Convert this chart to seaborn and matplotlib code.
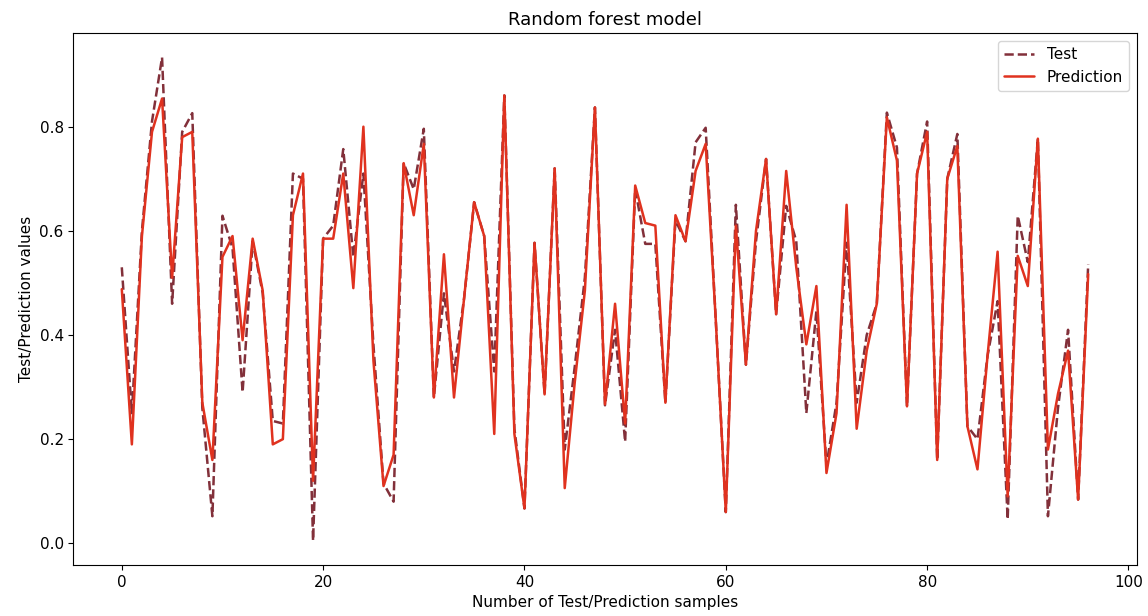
import numpy as np
import pandas as pd
import matplotlib
matplotlib.use("Agg")
import matplotlib.pyplot as plt
import seaborn as sns

test_values = [0.53, 0.25, 0.60, 0.81, 0.933, 0.46, 0.79, 0.826, 0.26, 0.052,
               0.629, 0.567, 0.29, 0.58, 0.48, 0.235, 0.23, 0.71, 0.70, 0.005,
               0.585, 0.61, 0.757, 0.55, 0.71, 0.38, 0.115, 0.08, 0.73, 0.68,
               0.796, 0.28, 0.48, 0.33, 0.47, 0.655, 0.59, 0.33, 0.86, 0.22,
               0.067, 0.577, 0.286, 0.72, 0.18, 0.34, 0.51, 0.837, 0.265, 0.41,
               0.195, 0.68, 0.575, 0.575, 0.27, 0.62, 0.58, 0.77, 0.798, 0.43,
               0.06, 0.65, 0.343, 0.58, 0.738, 0.44, 0.648, 0.58, 0.25, 0.446,
               0.15, 0.27, 0.577, 0.27, 0.40, 0.46, 0.827, 0.76, 0.263, 0.71,
               0.81, 0.16, 0.70, 0.786, 0.225, 0.20, 0.36, 0.465, 0.046, 0.629,
               0.54, 0.777, 0.052, 0.26, 0.41, 0.084, 0.536]
pred_values = [0.488, 0.19, 0.59, 0.79, 0.854, 0.51, 0.78, 0.79, 0.27, 0.16,
               0.55, 0.59, 0.39, 0.585, 0.485, 0.19, 0.20, 0.63, 0.71, 0.12,
               0.585, 0.585, 0.71, 0.49, 0.80, 0.35, 0.11, 0.17, 0.73, 0.63,
               0.767, 0.28, 0.555, 0.28, 0.47, 0.655, 0.59, 0.21, 0.86, 0.21,
               0.067, 0.577, 0.286, 0.72, 0.106, 0.31, 0.485, 0.837, 0.267, 0.46,
               0.23, 0.687, 0.615, 0.61, 0.27, 0.63, 0.58, 0.715, 0.767, 0.43,
               0.06, 0.61, 0.343, 0.60, 0.738, 0.44, 0.715, 0.53, 0.382, 0.494,
               0.135, 0.25, 0.65, 0.22, 0.37, 0.46, 0.818, 0.735, 0.263, 0.71,
               0.79, 0.16, 0.70, 0.763, 0.225, 0.142, 0.36, 0.56, 0.09, 0.552,
               0.494, 0.777, 0.18, 0.287, 0.37, 0.084, 0.517]
sample_index = list(range(len(test_values)))

df = pd.DataFrame({"idx": sample_index, "Test": test_values, "Prediction": pred_values})

sns.set_style("ticks", rc={"text.color": "black", "axes.labelcolor": "black",
                           "xtick.color": "black", "ytick.color": "black",
                           "axes.edgecolor": "black"})
fig, ax = plt.subplots(figsize=(11.48, 6.16), dpi=100)
fig.subplots_adjust(left=0.064, right=0.990, top=0.946, bottom=0.083)

sns.lineplot(data=df, x="idx", y="Test", ax=ax, color="#82303a", linestyle="--",
             linewidth=1.8, label="Test")
sns.lineplot(data=df, x="idx", y="Prediction", ax=ax, color="#e0321f", linestyle="-",
             linewidth=1.8, label="Prediction")

ax.set_title("Random forest model", fontsize=13)
ax.set_xlabel("Number of Test/Prediction samples", fontsize=11)
ax.set_ylabel("Test/Prediction values", fontsize=11)
ax.tick_params(labelsize=11)
ax.set_xticks([0, 20, 40, 60, 80, 100])
ax.set_yticks([0.0, 0.2, 0.4, 0.6, 0.8])
ax.margins(x=0.05, y=0.05)
ax.legend(loc="upper right", fontsize=11)

fig.savefig("out.png", dpi=100)
